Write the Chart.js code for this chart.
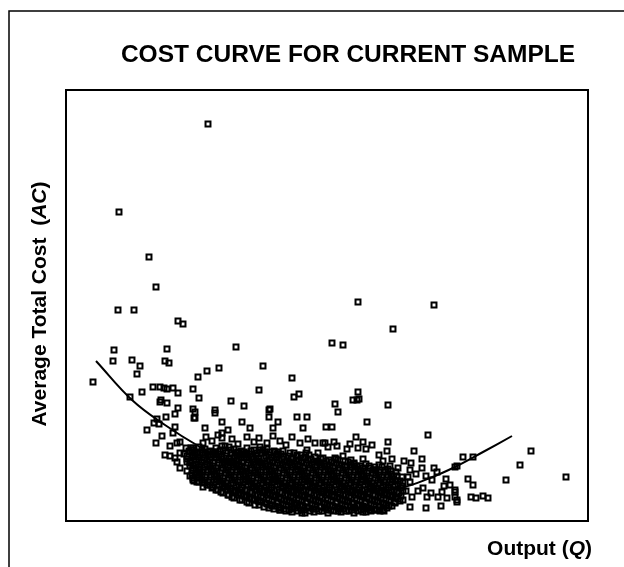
<!DOCTYPE html>
<html>
<head>
<meta charset="utf-8">
<script src="https://cdn.jsdelivr.net/npm/chart.js@4.4.0/dist/chart.umd.min.js"></script>
<style>
  html, body { margin: 0; background: #fff; }
  canvas { display: block; }
</style>
</head>
<body>
<canvas id="c" width="624" height="567"></canvas>
<script>
/* Cost curve – scatter of sample firms plus fitted average cost curve */

var TITLE = 'COST CURVE FOR CURRENT SAMPLE';

// scattered firms, read one by one: [output Q, average cost AC] (arbitrary units)
var outlierPoints = [
  [142,397],[53,309],[83,264],[90,234],[52,211],[68,211],[112,200],[117,197],[170,174],[48,171],
  [101,172],[47,160],[66,161],[74,155],[99,160],[103,158],[71,147],[27,139],[141,150],[153,153],
  [132,144],[87,134],[94,134],[98,133],[101,132],[107,133],[76,129],[112,128],[127,132],[64,124],
  [95,121],[101,118],[133,123],[165,120],[112,113],[127,112],[149,111],[292,219],[327,192],[266,178],
  [277,176],[197,155],[226,143],[193,131],[228,124],[233,127],[292,129],[287,121],[291,121],[293,122],
  [269,117],[322,116],[178,115],[204,112],[368,216],[500,44],[465,70],[454,56],[440,41],[397,64],
  [407,64],[389,54],[402,42],[407,36],[405,24],[410,23],[417,25],[422,23],[389,31],[389,24],[391,19],
  [272,109],[260,94],[266,94],[301,99],[362,86],[259,78],[271,75],[281,72],[297,79],[292,73],
  [322,79],[321,70],[348,70],[356,62],[277,65],[270,62],[297,62],[288,58],[309,51],[317,60],
  [324,55],[332,53],[344,51],[356,53],[368,53],[371,49],[380,42],[391,55],[378,35],[366,41],
  [357,33],[344,39],[346,24],[361,24],[360,13],[375,15],[372,24],[381,23],[344,14],[337,21],
  [297,9],[304,11],[309,11],[314,11],[317,11],[272,10],[259,13],[391,21],[389,29],
  [129,109],[129,103],[149,108],[203,111],[203,104],[212,99],[156,99],[176,99],[231,104],[241,104],
  [237,93],[139,93],[156,88],[162,91],[184,93],[207,93],[156,83],[193,83],[201,78],[207,85],
  [242,82],[249,78],[257,78],[137,78],[156,75],[159,75],[171,68],[177,66],[194,71],[199,69],
  [212,69],[231,66],[241,71],[252,68],[127,73],[131,68],[139,68],[149,69],[239,8],[214,11],
  [137,34],[127,41],
  [94,119],[109,107],[128,103],[100,104],[91,102],[88,98],[93,97],[81,91],[109,94],[107,88],
  [96,85],[90,78],[114,79],[111,78],[104,75],[125,73],[114,68],[99,66],[104,65],[132,68],
  [111,59],[109,63],[114,53],[121,59],[124,55],[127,51],[130,57],[133,52],[121,50],[126,46],
  [131,44],[134,48],[128,40],[133,39],[124,45],[127,43],[131,39],
  [140,84],[146,80],[152,86],[166,82],[172,77],[181,84],[188,79],[214,80],[220,76],[226,84],
  [234,78],[262,74],[268,79],[284,77],[290,84],[300,72],[306,76],[313,66],[326,62],[338,60],
  [345,58],[350,47],[360,45],[352,30],[365,28],[376,29],[384,36],[340,30],[342,44]
];

// the dense mass of firms near the bottom of the curve
var clusterPoints = [
  [120,73],[126,71],[133,74],[139,72],[144,70],[150,73],[157,71],[163,74],[168,72],[175,70],
  [181,73],[188,71],[194,74],[201,72],[208,70],
  [123,70],[129,68],[136,71],[142,69],[147,67],[154,70],[160,68],[165,71],[172,69],[178,67],
  [185,70],[191,68],[197,71],[204,69],[211,67],[217,70],[224,68],
  [118,67],[124,69],[129,66],[136,68],[142,66],[147,69],[153,67],[160,65],[166,68],[171,66],
  [178,69],[184,67],[190,65],[196,68],[203,66],[209,69],[215,67],[222,65],[228,68],[235,66],[240,68],
  [121,65],[127,66],[132,64],[139,66],[145,64],[150,66],[156,64],[163,62],[169,65],[175,63],
  [181,66],[187,64],[193,62],[200,65],[206,63],[212,66],[218,64],[225,62],[231,65],[237,63],
  [243,66],[249,64],[255,62],
  [121,62],[127,64],[133,61],[138,63],[144,61],[150,64],[156,62],[162,60],[168,63],[173,61],
  [180,64],[186,62],[192,60],[198,63],[204,61],[210,64],[216,62],[221,60],[227,63],[233,61],
  [239,64],[245,62],[251,60],[257,63],[263,61],[269,63],
  [124,60],[130,61],[136,59],[141,61],[147,58],[153,61],[159,59],[165,58],[171,60],[176,59],
  [183,61],[189,59],[195,58],[201,60],[207,59],[213,61],[219,59],[224,58],[230,60],[236,59],
  [242,61],[248,59],[254,58],[260,60],[266,59],[272,61],[279,60],[285,61],
  [124,58],[130,56],[136,59],[141,57],[147,55],[153,58],[159,56],[165,59],[170,57],[176,55],
  [182,58],[188,56],[193,59],[199,57],[205,55],[211,58],[217,56],[223,59],[229,57],[234,55],
  [240,58],[246,56],[252,59],[258,57],[264,55],[270,58],[276,56],[282,59],[288,57],[294,55],[300,57],
  [127,56],[133,54],[139,56],[144,55],[150,53],[156,56],[162,54],[168,56],[173,55],[179,53],
  [185,56],[191,54],[196,56],[202,55],[208,53],[214,56],[220,54],[226,56],[232,55],[237,53],
  [243,56],[249,54],[255,56],[261,55],[267,53],[273,56],[279,54],[285,56],[291,55],[297,53],
  [303,55],[309,54],[313,56],
  [127,53],[133,51],[139,54],[145,52],[151,50],[157,53],[162,51],[168,54],[174,52],[180,50],
  [186,53],[192,51],[197,54],[203,52],[209,50],[215,53],[221,51],[227,54],[232,52],[238,50],
  [244,53],[250,51],[256,54],[262,52],[268,50],[274,53],[280,51],[286,54],[292,52],[298,50],
  [304,53],[310,51],[316,54],[322,52],
  [130,51],[136,49],[142,51],[148,50],[154,48],[160,51],[165,49],[171,51],[177,50],[183,48],
  [189,51],[195,49],[200,51],[206,50],[212,48],[218,51],[224,49],[230,51],[235,50],[241,48],
  [247,51],[253,49],[259,51],[265,50],[271,48],[277,51],[283,49],[289,51],[295,50],[301,48],
  [307,51],[313,49],[319,51],[325,50],[330,49],
  [130,48],[136,46],[142,49],[148,47],[154,45],[160,48],[165,46],[171,49],[177,47],[183,45],
  [189,48],[195,46],[200,49],[206,47],[212,45],[218,48],[224,46],[230,49],[236,47],[241,45],
  [247,48],[253,46],[259,49],[265,47],[271,45],[277,48],[283,46],[289,49],[295,47],[301,45],
  [307,48],[313,46],[319,49],[325,47],[331,45],
  [133,46],[139,44],[145,46],[151,45],[157,43],[163,46],[168,44],[174,46],[180,45],[186,43],
  [192,46],[198,44],[203,46],[209,45],[215,43],[221,46],[227,44],[233,46],[239,45],[244,43],
  [250,46],[256,44],[262,46],[268,45],[274,43],[280,46],[286,44],[292,46],[298,45],[304,43],
  [310,46],[316,44],[322,46],[328,45],[336,44],
  [133,43],[139,41],[145,44],[151,42],[157,40],[163,43],[169,41],[174,44],[180,42],[186,40],
  [192,43],[198,41],[204,44],[209,42],[215,40],[221,43],[227,41],[233,44],[239,42],[245,40],
  [250,43],[256,41],[262,44],[268,42],[274,40],[280,43],[286,41],[292,44],[297,42],[303,40],
  [309,43],[315,41],[321,44],[327,42],[334,40],
  [136,41],[142,39],[148,41],[154,40],[160,38],[166,41],[172,39],[177,41],[183,40],[189,38],
  [195,41],[201,39],[207,41],[212,40],[218,38],[224,41],[230,39],[236,41],[242,40],[248,38],
  [253,41],[259,39],[265,41],[271,40],[277,38],[283,41],[289,39],[295,41],[300,40],[306,38],
  [312,41],[318,39],[324,41],[330,40],[337,38],
  [138,38],[144,36],[150,39],[156,37],[162,35],[167,38],[173,36],[179,39],[185,37],[191,35],
  [197,38],[203,36],[208,39],[214,37],[220,35],[226,38],[232,36],[238,39],[244,37],[249,35],
  [255,38],[261,36],[267,39],[273,37],[279,35],[285,38],[290,36],[296,39],[302,37],[308,35],
  [314,38],[320,36],[326,39],[332,37],
  [141,36],[147,34],[153,36],[159,35],[165,33],[170,36],[176,34],[182,36],[188,35],[194,33],
  [200,36],[206,34],[211,36],[217,35],[223,33],[229,36],[235,34],[241,36],[247,35],[252,33],
  [258,36],[264,34],[270,36],[276,35],[282,33],[288,36],[293,34],[299,36],[305,35],[311,33],
  [317,36],[323,34],[329,36],[336,35],
  [146,33],[152,31],[158,34],[164,32],[170,30],[176,33],[181,31],[187,34],[193,32],[199,30],
  [205,33],[211,31],[217,34],[222,32],[228,30],[234,33],[240,31],[246,34],[252,32],[258,30],
  [263,33],[269,31],[275,34],[281,32],[287,30],[293,33],[299,31],[304,34],[310,32],[316,30],
  [322,33],[328,31],[335,33],
  [150,31],[155,29],[161,31],[167,30],[173,28],[179,31],[184,29],[190,31],[196,30],[202,28],
  [208,31],[214,29],[220,31],[225,30],[231,28],[237,31],[243,29],[249,31],[255,30],[261,28],
  [266,31],[272,29],[278,31],[284,30],[290,28],[296,31],[302,29],[307,31],[313,30],[319,28],
  [325,31],[331,29],[337,30],
  [157,28],[163,26],[169,29],[175,27],[181,25],[186,28],[192,26],[198,29],[204,27],[210,25],
  [216,28],[222,26],[227,29],[233,27],[239,25],[245,28],[251,26],[257,29],[263,27],[268,25],
  [274,28],[280,26],[286,29],[292,27],[298,25],[304,28],[309,26],[315,29],[321,27],[327,25],[333,28],
  [162,26],[166,24],[172,26],[178,25],[184,23],[189,26],[195,24],[201,26],[207,25],[213,23],
  [219,26],[225,24],[230,26],[236,25],[242,23],[248,26],[254,24],[260,26],[266,25],[271,23],
  [277,26],[283,24],[289,26],[295,25],[301,23],[307,26],[312,24],[318,26],[324,25],[330,23],[335,25],
  [168,23],[174,21],[180,24],[186,22],[192,20],[197,23],[203,21],[209,24],[215,22],[221,20],
  [227,23],[233,21],[238,24],[244,22],[250,20],[256,23],[262,21],[268,24],[274,22],[279,20],
  [285,23],[291,21],[297,24],[303,22],[309,20],[315,23],[320,21],[326,24],[332,22],
  [176,21],[181,19],[188,21],[194,20],[200,18],[206,21],[212,19],[218,21],[224,20],[230,18],
  [236,21],[241,19],[247,21],[253,20],[259,18],[265,21],[271,19],[277,21],[282,20],[288,18],
  [294,21],[300,19],[306,21],[312,20],[318,18],[323,21],[329,19],[334,20],
  [183,18],[189,16],[195,19],[201,17],[206,15],[211,18],[217,16],[223,19],[228,17],[234,15],
  [240,18],[246,16],[252,19],[258,17],[264,15],[270,18],[276,16],[281,19],[287,17],[293,15],
  [299,18],[305,16],[311,19],[317,17],[323,15],[329,18],
  [193,16],[198,14],[204,16],[209,15],[214,13],[220,16],[226,14],[231,16],[237,15],[243,13],
  [249,16],[255,14],[261,16],[267,15],[273,13],[279,16],[285,14],[291,16],[297,15],[302,13],
  [308,16],[314,14],[320,16],[326,15],
  [203,13],[208,12],[213,14],[218,12],[223,11],[229,13],[235,11],[241,14],[247,12],[253,10],
  [259,13],[265,11],[271,14],[277,12],[283,10],[289,13],[295,11],[301,13],[308,12],[314,10],[321,13],
  [214,11],[220,10],[226,12],[232,10],[238,11],[244,10],[250,12],[256,10],[262,11],[268,10],
  [274,12],[280,10],[286,11],[292,10],[298,12],[305,10],[311,11],[318,10],
  [226,9],[236,8],[248,9],[262,8],[275,9],[288,8],[300,9]
];

// fitted average cost curve
var curveQ  = [30, 66, 99, 134, 174, 214, 254, 294, 334, 364, 391, 417, 446];
var curveAC = [160, 121, 96, 74, 53, 38, 30, 29, 33, 43, 55, 69, 85];

function pairs(list) { return list.map(function (p) { return { x: p[0], y: p[1] }; }); }

// write a label made of pieces with different fonts (italic AC / Q)
function drawParts(ctx, parts, x, y, align) {
  var total = 0;
  parts.forEach(function (p) { ctx.font = p[1]; total += ctx.measureText(p[0]).width; });
  var cx = align === 'right' ? x - total : x - total / 2;
  ctx.textAlign = 'left';
  parts.forEach(function (p) {
    ctx.font = p[1];
    ctx.fillText(p[0], cx, y);
    cx += ctx.measureText(p[0]).width;
  });
}

var FONT = '"Liberation Sans", Arial, sans-serif';
var B = 'bold 21px ' + FONT;
var BI = 'italic bold 21px ' + FONT;

var framePlugin = {
  id: 'frame',
  beforeDraw: function (chart) {
    var ctx = chart.ctx;
    ctx.save();
    ctx.fillStyle = '#fff';
    ctx.fillRect(0, 0, chart.width, chart.height);
    ctx.strokeStyle = '#000';
    ctx.lineWidth = 1.5;
    ctx.strokeRect(9, 11, 700, 700); // outer frame, runs off the right/bottom edge
    ctx.restore();
  },
  afterDraw: function (chart) {
    var a = chart.chartArea, ctx = chart.ctx;
    ctx.save();
    ctx.strokeStyle = '#000';
    ctx.lineWidth = 2;
    ctx.strokeRect(a.left, a.top, a.right - a.left, a.bottom - a.top);

    ctx.fillStyle = '#000';
    ctx.textBaseline = 'middle';
    ctx.textAlign = 'center';
    ctx.font = 'bold 24.5px ' + FONT;
    ctx.fillText(TITLE, 348, 55);

    ctx.save();
    ctx.translate(40, 304);
    ctx.rotate(-Math.PI / 2);
    drawParts(ctx, [['Average Total Cost  (', B], ['AC', BI], [')', B]], 0, 0, 'center');
    ctx.restore();

    drawParts(ctx, [['Output (', B], ['Q', BI], [')', B]], 592, 549, 'right');
    ctx.restore();
  }
};

new Chart(document.getElementById('c').getContext('2d'), {
  type: 'scatter',
  data: {
    datasets: [
      {
        data: curveQ.map(function (q, i) { return { x: q, y: curveAC[i] }; }),
        showLine: true, tension: 0.4, borderColor: '#000', borderWidth: 2,
        pointRadius: 0, fill: false
      },
      {
        data: pairs(outlierPoints).concat(pairs(clusterPoints)),
        pointStyle: 'rect', pointRadius: 3.5, borderWidth: 2,
        borderColor: '#000', backgroundColor: 'rgba(0,0,0,0)'
      }
    ]
  },
  options: {
    responsive: false, animation: false,
    layout: { padding: { left: 66, top: 90, right: 36, bottom: 46 } },
    plugins: { legend: { display: false }, tooltip: { enabled: false } },
    scales: {
      x: { type: 'linear', min: 0, max: 522, display: false },
      y: { type: 'linear', min: 0, max: 431, display: false }
    }
  },
  plugins: [framePlugin]
});
</script>
</body>
</html>
